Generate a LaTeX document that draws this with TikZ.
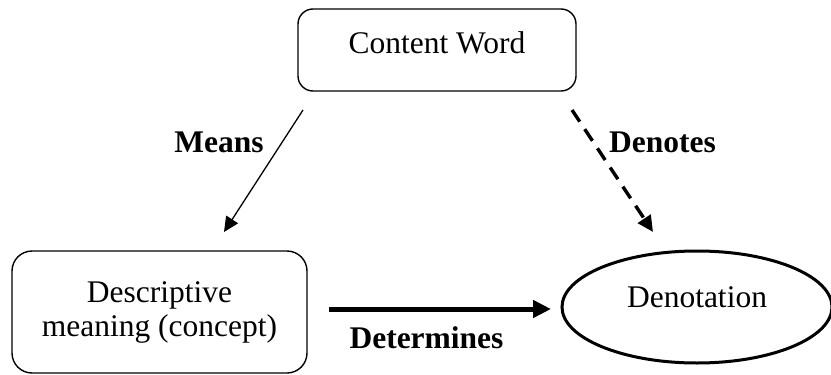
\documentclass[tikz,border=0pt]{standalone}
\usepackage{fontspec}
\setmainfont{Liberation Serif}
\usetikzlibrary{arrows.meta,shapes.geometric}
\begin{document}
\begin{tikzpicture}[x=1pt,y=-1pt,
  every node/.style={font=\fontsize{31.5}{34}\selectfont, inner sep=0pt},
  wordbox/.style={draw, line width=1.4pt, rounded corners=15pt},
  conceptbox/.style={draw, line width=1.4pt, rounded corners=20pt, align=center},
  refell/.style={draw, ellipse, line width=3pt},
  lbl/.style={font=\fontsize{31.5}{34}\selectfont\bfseries, anchor=base},
  thinarrow/.style={line width=1.3pt, -{Triangle[length=15pt,width=14pt]}},
  dasharrow/.style={line width=3.4pt, dash pattern=on 14pt off 9pt, -{Triangle[length=16pt,width=15pt]}},
  thickarrow/.style={line width=5pt, -{Triangle[length=18pt,width=17pt]}}
]
\useasboundingbox (0,0) rectangle (831,375);
\node[wordbox, minimum width=278pt, minimum height=82pt, text depth=15pt] (cw) at (437,50) {Content Word};
\node[conceptbox, minimum width=295pt, minimum height=122pt] (dm) at (159.5,312) {Descriptive\\meaning (concept)};
\node[refell, minimum width=270pt, minimum height=112pt, text depth=20pt] (den) at (697,307) {Denotation};
\coordinate (m1) at (303,110);
\coordinate (m2) at (224,232);
\coordinate (d1) at (572,110);
\coordinate (d2) at (653,232);
\coordinate (t1) at (329,309);
\coordinate (t2) at (551,309);
\draw[thinarrow] (m1) -- (m2);
\draw[dasharrow] (d1) -- (d2);
\draw[thickarrow] (t1) -- (t2);
\node[lbl] (means) at (219,152) {Means};
\node[lbl] (denotes) at (662.5,152) {Denotes};
\node[lbl] (determines) at (426.5,348) {Determines};
\end{tikzpicture}
\end{document}
